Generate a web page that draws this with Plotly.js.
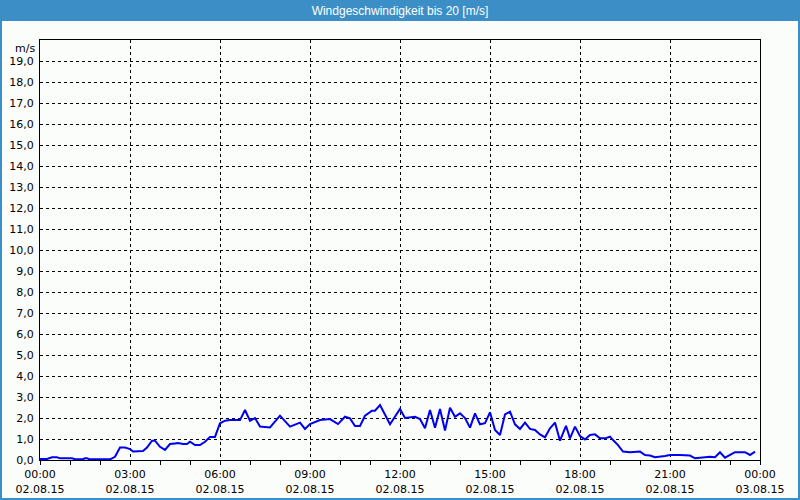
<!DOCTYPE html>
<html>
<head>
<meta charset="utf-8">
<script src="https://cdn.plot.ly/plotly-3.0.1.min.js"></script>
<style>
html,body{margin:0;padding:0;background:#fbfdfb;}
#chart{width:800px;height:500px;}
</style>
</head>
<body>
<div id="chart"></div>
<script>
// Data (times on 02.08.15, wind speed in m/s)
const times = [
"00:00","00:14","00:24","00:34","00:40","01:04","01:10","01:26","01:30","01:34",
"01:40","02:20","02:30","02:40","02:50","03:00","03:06","03:26","03:34","03:44",
"03:50","04:00","04:10","04:20","04:30","04:36","04:46","04:54","05:00","05:10",
"05:20","05:30","05:40","05:50","06:00","06:10","06:20","06:40","06:50","07:00",
"07:10","07:20","07:40","08:00","08:20","08:40","08:50","09:00","09:20","09:40",
"09:56","10:10","10:20","10:30","10:40","10:50","11:04","11:10","11:20","11:40",
"12:00","12:10","12:30","12:40","12:50","13:00","13:10","13:20","13:30","13:40",
"13:50","14:00","14:10","14:20","14:30","14:40","14:50","15:00","15:10","15:20",
"15:30","15:40","15:50","16:00","16:10","16:20","16:30","16:40","16:50","17:00",
"17:10","17:20","17:32","17:40","17:50","18:00","18:10","18:20","18:30","18:40",
"18:50","19:00","19:06","19:16","19:26","19:40","20:00","20:10","20:20","20:30",
"20:50","21:00","21:20","21:40","21:50","22:00","22:20","22:30","22:40","22:50",
"23:00","23:10","23:30","23:40","23:50"
];
const speed = [
0.05,0.05,0.13,0.13,0.08,0.08,0.04,0.04,0.08,0.08,
0.03,0.03,0.15,0.59,0.59,0.52,0.40,0.43,0.59,0.92,
0.92,0.63,0.48,0.76,0.79,0.81,0.76,0.76,0.87,0.71,
0.71,0.87,1.10,1.10,1.75,1.87,1.90,1.90,2.38,1.86,
2.00,1.59,1.55,2.11,1.59,1.78,1.48,1.71,1.90,1.95,
1.71,2.06,1.98,1.62,1.62,2.11,2.35,2.35,2.62,1.70,
2.43,2.00,2.06,1.95,1.51,2.38,1.54,2.43,1.40,2.49,
2.06,2.22,2.00,1.54,2.22,1.70,1.75,2.27,1.43,1.19,
2.17,2.30,1.70,1.48,1.78,1.48,1.43,1.22,1.08,1.51,
1.78,0.92,1.63,1.03,1.59,1.14,0.98,1.19,1.22,1.03,
1.03,1.11,0.95,0.71,0.40,0.37,0.40,0.24,0.21,0.13,
0.19,0.24,0.24,0.21,0.08,0.11,0.16,0.13,0.37,0.11,
0.24,0.37,0.37,0.24,0.40
];
const xTickVals = ["2015-08-02 00:00","2015-08-02 03:00","2015-08-02 06:00","2015-08-02 09:00",
"2015-08-02 12:00","2015-08-02 15:00","2015-08-02 18:00","2015-08-02 21:00","2015-08-03 00:00"];
const xTickText = ["00:00<br>02.08.15","03:00<br>02.08.15","06:00<br>02.08.15","09:00<br>02.08.15",
"12:00<br>02.08.15","15:00<br>02.08.15","18:00<br>02.08.15","21:00<br>02.08.15","00:00<br>03.08.15"];
const yTickVals = [0,1,2,3,4,5,6,7,8,9,10,11,12,13,14,15,16,17,18,19];
const yTickText = ["0,0","1,0","2,0","3,0","4,0","5,0","6,0","7,0","8,0","9,0","10,0",
"11,0","12,0","13,0","14,0","15,0","16,0","17,0","18,0","19,0"];
const chartTitle = "Windgeschwindigkeit bis 20 [m/s]";
const unitLabel = "m/s";

const W = 800, H = 500;
const M = {l:40, r:40, t:40, b:40};
const pw = W - M.l - M.r, ph = H - M.t - M.b;
const px2x = p => (p - M.l) / pw;
const py2y = p => 1 - (p - M.t) / ph;

const FONT = "DejaVu Sans, Verdana, sans-serif";
const TFONT = "Liberation Sans, Arial, sans-serif";
const BLUE = "#3b8fc6";

const trace = {
  x: times.map(t => "2015-08-02 " + t),
  y: speed,
  type: "scatter",
  mode: "lines",
  line: {color: "#0000f0", width: 2},
  hoverinfo: "skip"
};

const layout = {
  width: W, height: H,
  margin: M,
  paper_bgcolor: "#fbfdfb",
  plot_bgcolor: "#fbfdfb",
  showlegend: false,
  font: {family: FONT, size: 11, color: "#000"},
  title: {
    text: chartTitle,
    font: {family: TFONT, size: 12, color: "#ffffff"},
    x: 0.5, xanchor: "center",
    y: 1 - 10.5 / H, yanchor: "middle", yref: "container"
  },
  xaxis: {
    type: "date",
    range: ["2015-08-02 00:00", "2015-08-03 00:00"],
    tickvals: xTickVals,
    ticktext: xTickText,
    ticks: "outside", ticklen: 4, tickcolor: "#000", tickwidth: 1,
    minor: {dtick: 3600000, tick0: "2015-08-02 00:00", ticks: "outside", ticklen: 4, tickcolor: "#000", showgrid: false},
    showgrid: true, gridcolor: "#000", gridwidth: 1, griddash: "3px,3px",
    showline: true, linecolor: "#000", linewidth: 1, mirror: true,
    zeroline: false, fixedrange: true,
    tickfont: {family: FONT, size: 11, color: "#000"}
  },
  yaxis: {
    range: [0, 20],
    tickvals: yTickVals,
    ticktext: yTickText,
    ticks: "", ticklabelstandoff: 3,
    showgrid: true, gridcolor: "#000", gridwidth: 1, griddash: "3px,3px",
    showline: true, linecolor: "#000", linewidth: 1, mirror: true,
    zeroline: false, fixedrange: true,
    tickfont: {family: FONT, size: 11, color: "#000"}
  },
  shapes: [
    {type: "rect", xref: "paper", yref: "paper", layer: "below",
     x0: px2x(0), x1: px2x(W), y0: py2y(21), y1: py2y(0),
     fillcolor: BLUE, line: {width: 0}},
    {type: "rect", xref: "paper", yref: "paper", layer: "below",
     x0: px2x(1), x1: px2x(W - 1), y0: py2y(H - 1), y1: py2y(0),
     fillcolor: "rgba(0,0,0,0)", line: {color: BLUE, width: 2}}
  ],
  annotations: [
    {text: unitLabel, xref: "paper", yref: "paper", x: 0, y: 1,
     xanchor: "right", yanchor: "top", xshift: -3, yshift: 0, showarrow: false,
     font: {family: FONT, size: 11, color: "#000"}}
  ]
};

Plotly.newPlot("chart", [trace], layout, {displayModeBar: false, staticPlot: true});
</script>
</body>
</html>
